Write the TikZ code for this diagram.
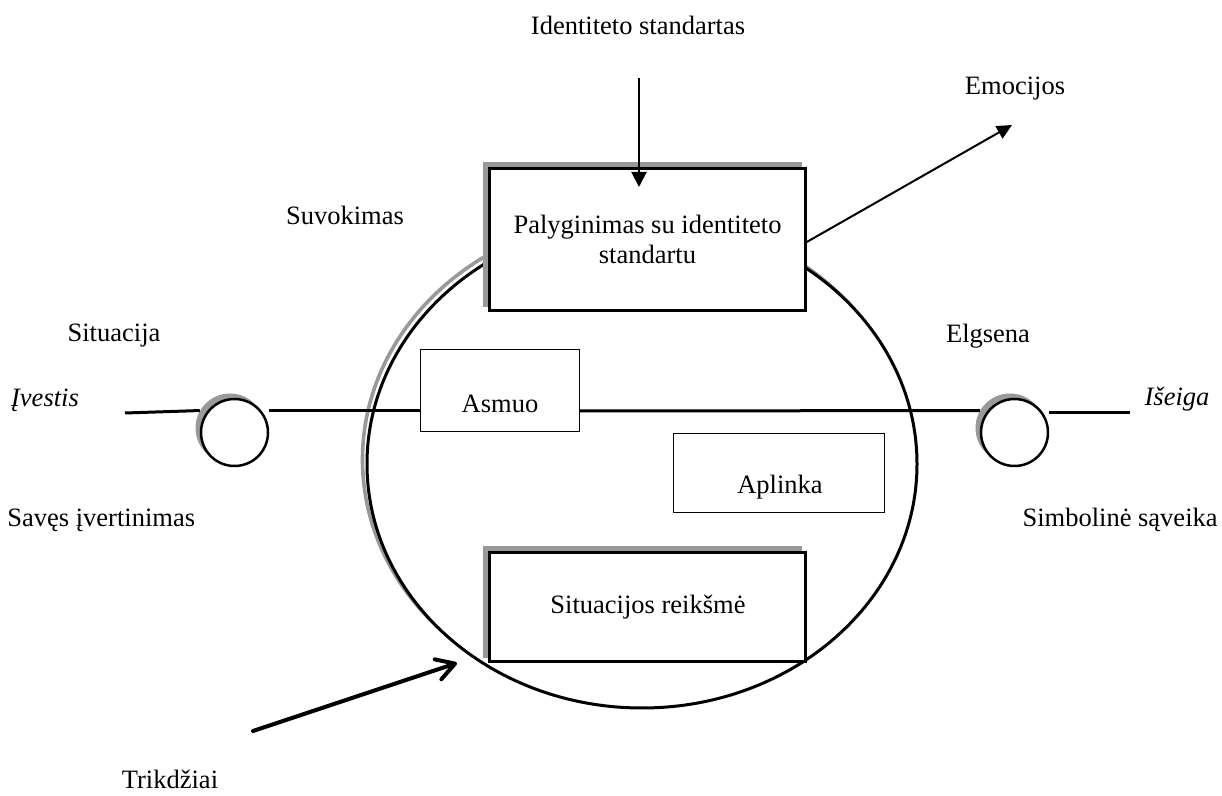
\documentclass[tikz,border=0pt]{standalone}
\usepackage{fontspec}
\setmainfont{Liberation Serif}
\usetikzlibrary{arrows.meta,calc}
\begin{document}
\begin{tikzpicture}[x=0.5pt,y=-0.5pt,
  txt/.style={font=\fontsize{13.25pt}{15pt}\selectfont, inner sep=0pt},
  shd/.style={fill=black!40, draw=none, inner sep=0pt},
  bigbox/.style={draw, line width=1.3pt, fill=white, inner sep=0pt},
  thinbox/.style={draw, line width=0.6pt, fill=white, inner sep=0pt},
  conn/.style={line width=1.5pt},
  ring/.style={circle, draw, line width=1.25pt, fill=white, minimum size=33.5pt, inner sep=0pt},
  ringshd/.style={circle, fill=black!40, minimum size=34.5pt, inner sep=0pt},
  farrow/.style={line width=1pt, -{Triangle[length=7.5pt,width=7.5pt]}},
  oarrow/.style={line width=2pt, line cap=round, -{Straight Barb[length=9pt,width=10.5pt,line cap=round,line join=round]}}
]
\useasboundingbox (0,0) rectangle (1222,796);

% big ellipse with shadow
\draw[black!40, line width=1.8pt] (637.5,459.5) ellipse [x radius=137.5pt, y radius=122pt];
\draw[conn, fill=white] (642,464) ellipse [x radius=137.5pt, y radius=122pt];

% horizontal flow
\coordinate (hy) at (0,410.5);
\coordinate (hy2) at (0,411);
\coordinate (hy3) at (0,413);
\coordinate (inL) at (125,413);
\coordinate (outR) at (1130,413);

% small circles
\node[ringshd] (c1s) at (230,428) {};
\node[ring] (c1) at (234.5,432.5) {};
\node[ringshd] (c2s) at (1010,428) {};
\node[ring] (c2) at (1014.5,432.5) {};

% boxes
\node[shd, minimum width=159.5pt, minimum height=72.5pt] (cmps) at (642.5,234.5) {};
\node[bigbox, minimum width=158.2pt, minimum height=71.2pt, txt, align=center] (cmp) at (647.5,239.5)
  {Palyginimas su identiteto\\standartu};
\node[shd, minimum width=159.5pt, minimum height=56pt] (sits) at (642.5,602) {};
\node[bigbox, minimum width=158.2pt, minimum height=54.7pt] (sit) at (647.5,607) {};
\node[thinbox, minimum width=79.4pt, minimum height=40.9pt] (asm) at (500,390.5) {};
\node[thinbox, minimum width=105.4pt, minimum height=39.4pt] (apl) at (779,473) {};

% box texts
\node[txt] (tsit) at (648,607) {Situacijos reikšmė};
\node[txt] (tasm) at (500,403.5) {Asmuo};
\node[txt] (tapl) at (780,487) {Aplinka};

% flow lines
\draw[conn] (inL) -- (c1s.150);
\draw[conn] (c1.east |- hy) -- (asm.west |- hy);
\draw[conn] (asm.east |- hy2) -- (c2s.150);
\draw[conn] (c2.east |- hy3) -- (outR);

% arrows
\coordinate (topS) at (639,78);
\coordinate (topE) at (639,187);
\draw[farrow] (topS) -- (topE);
\coordinate (emoE) at (1012,125);
\draw[line width=1pt, -{Triangle[length=7.5pt,width=7pt]}] ([yshift=-1.2pt]cmp.east) -- (emoE);
\coordinate (trS) at (253,731);
\coordinate (trE) at (457,663);
\draw[oarrow] (trS) -- (trE);

% labels
\node[txt] (lid) at (638,25) {Identiteto standartas};
\node[txt] (lemo) at (1015,89) {Emocijos};
\node[txt] (lsuv) at (345,215) {Suvokimas};
\node[txt] (lsit) at (114,336) {Situacija};
\node[txt, font=\fontsize{13.25pt}{15pt}\selectfont\itshape] (lin) at (45,400) {Įvestis};
\node[txt] (lelg) at (988,336) {Elgsena};
\node[txt, font=\fontsize{13.25pt}{15pt}\selectfont\itshape] (lout) at (1177,399) {Išeiga};
\node[txt, anchor=west] (lsav) at (7,520) {Savęs įvertinimas};
\node[txt, anchor=east] (lsim) at (1218,520) {Simbolinė sąveika};
\node[txt] (ltri) at (170,779) {Trikdžiai};
\end{tikzpicture}
\end{document}
